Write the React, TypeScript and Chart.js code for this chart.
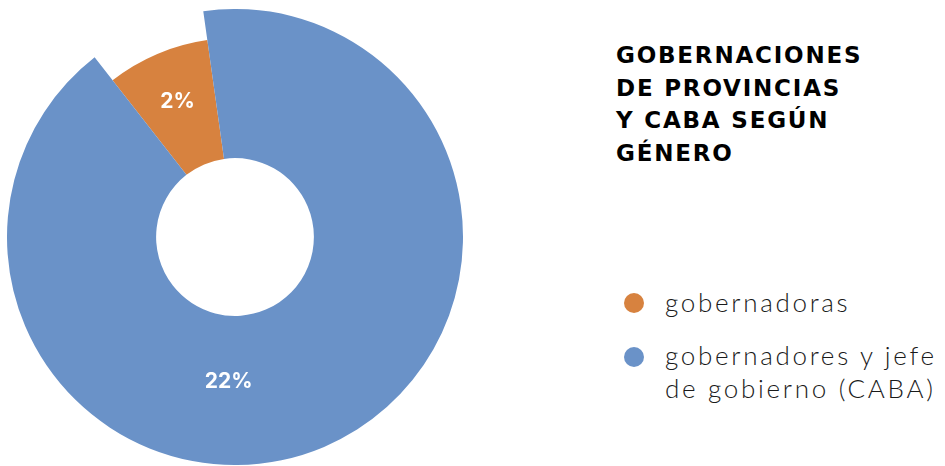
import React, { useEffect, useRef } from 'react';
import { Chart, registerables } from 'chart.js';

Chart.register(...registerables);

// ---- data ----
const categories = ['gobernadoras', 'gobernadores y jefe de gobierno (CABA)'];
const legendLines = [['gobernadoras'], ['gobernadores y jefe', 'de gobierno (CABA)']];
const values = [2, 22];
const valueLabels = ['2%', '22%'];
const titleLines = ['GOBERNACIONES', 'DE PROVINCIAS', 'Y CABA SEGÚN', 'GÉNERO'];

// ---- style ----
const colors = ['#D7823F', '#6A92C8'];
const sliceRadiusScale = [0.872, 1];
const labelRadius = [147, 145];
const labelAngleDeg: (number | null)[] = [null, 182.5]; // clockwise from top; null = slice bisector
const legendTops = [286, 339];
const dotTops = [293, 347];

const sliceRadiusPlugin = {
  id: 'sliceRadius',
  afterDatasetUpdate(chart: any, args: any, opts: any) {
    const scales = opts.scales || [];
    args.meta.data.forEach((arc: any, i: number) => {
      arc.outerRadius = arc.outerRadius * (scales[i] ?? 1);
    });
  },
};

const valueLabelPlugin = {
  id: 'valueLabels',
  afterDatasetsDraw(chart: any, _args: any, opts: any) {
    const ctx = chart.ctx;
    const meta = chart.getDatasetMeta(0);
    meta.data.forEach((arc: any, i: number) => {
      const { x, y, startAngle, endAngle } = arc;
      const a = opts.angles[i] == null ? (startAngle + endAngle) / 2 : ((opts.angles[i] - 90) * Math.PI) / 180;
      const r = opts.radii[i];
      ctx.save();
      ctx.fillStyle = '#ffffff';
      ctx.font = 'bold 21px Inter, "Open Sans", sans-serif';
      ctx.textAlign = 'center';
      ctx.textBaseline = 'middle';
      ctx.fillText(opts.labels[i], x + r * Math.cos(a), y + r * Math.sin(a));
      ctx.restore();
    });
  },
};

export default function App() {
  const ref = useRef<HTMLCanvasElement | null>(null);

  useEffect(() => {
    if (!ref.current) return;
    const chart = new Chart(ref.current, {
      type: 'doughnut',
      data: {
        labels: categories,
        datasets: [
          {
            data: values,
            backgroundColor: colors,
            borderWidth: 0,
            hoverOffset: 0,
          },
        ],
      },
      options: {
        responsive: false,
        animation: false,
        events: [],
        rotation: -38,
        cutout: '34.6%',
        layout: { padding: 0 },
        plugins: {
          legend: { display: false },
          tooltip: { enabled: false },
          title: { display: false },
          sliceRadius: { scales: sliceRadiusScale },
          valueLabels: { labels: valueLabels, radii: labelRadius, angles: labelAngleDeg },
        } as any,
      },
      plugins: [sliceRadiusPlugin, valueLabelPlugin],
    });
    return () => chart.destroy();
  }, []);

  return (
    <div style={{ position: 'absolute', left: 0, top: 0, width: 945, height: 466, overflow: 'hidden', background: '#fff' }}>
      <canvas
        ref={ref}
        width={456}
        height={456}
        style={{ position: 'absolute', left: 7, top: 9, width: 456, height: 456 }}
      />
      <div
        style={{
          position: 'absolute',
          left: 616,
          top: 39,
          fontFamily: '"DejaVu Sans", sans-serif',
          fontWeight: 700,
          fontSize: 23,
          letterSpacing: '1.8px',
          lineHeight: '32.5px',
          color: '#000',
          whiteSpace: 'nowrap',
        }}
      >
        {titleLines.map((t, i) => (
          <div key={i}>{t}</div>
        ))}
      </div>
      {legendLines.map((lines, i) => (
        <React.Fragment key={i}>
          <div
            style={{
              position: 'absolute',
              left: 624,
              top: dotTops[i],
              width: 20,
              height: 20,
              borderRadius: '50%',
              background: colors[i],
            }}
          />
          <div
            style={{
              position: 'absolute',
              left: 665,
              top: legendTops[i],
              fontFamily: 'Lato, "Open Sans", sans-serif',
              fontWeight: 300,
              fontSize: 26,
              letterSpacing: '2.7px',
              lineHeight: '33px',
              color: '#1a1a1a',
              whiteSpace: 'nowrap',
            }}
          >
            {lines.map((t, j) => (
              <div key={j}>{t}</div>
            ))}
          </div>
        </React.Fragment>
      ))}
    </div>
  );
}
